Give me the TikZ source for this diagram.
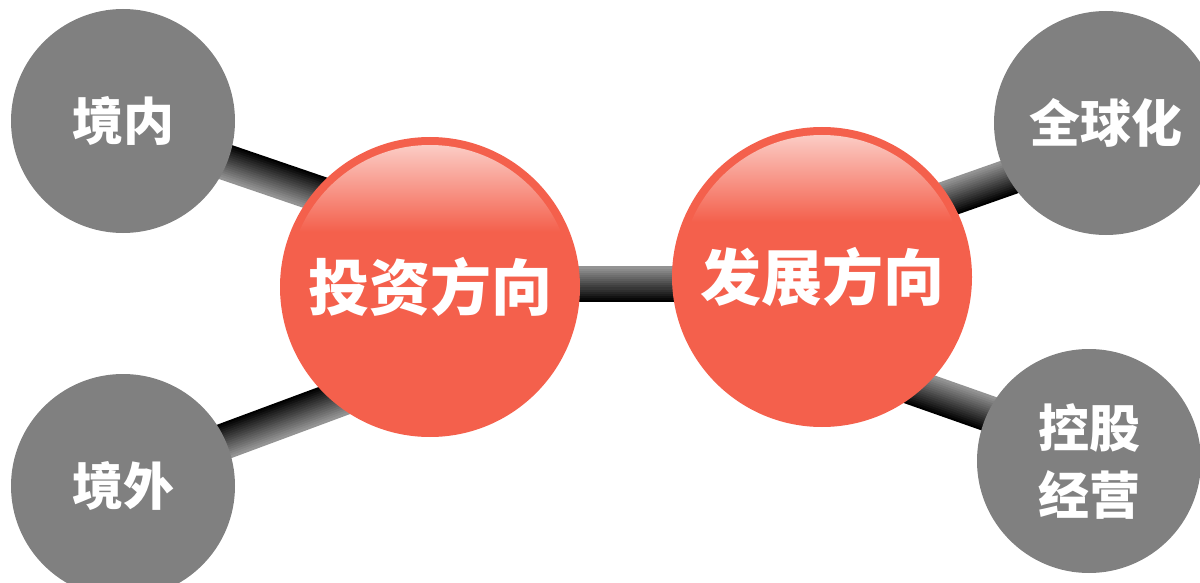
\documentclass[tikz,border=0pt]{standalone}
\usepackage{fontspec}
\newfontfamily\cjk{Noto Sans CJK SC}
\usetikzlibrary{calc,backgrounds}
\definecolor{dotgray}{RGB}{128,128,128}
\definecolor{dotred}{RGB}{244,96,76}
\definecolor{dotshine}{RGB}{252,214,208}
\tikzset{
  graydot/.style={circle,fill=dotgray,minimum size=224pt,inner sep=0pt,text=white,
    align=center,font=\cjk\bfseries\fontsize{51}{67}\selectfont},
  reddot/.style={circle,fill=dotred,minimum size=300pt,inner sep=0pt,text=white,
    font=\cjk\bfseries\fontsize{61}{70}\selectfont,
    path picture={\begin{scope}
      \clip (path picture bounding box.center) circle (142pt);
      \shade[top color=dotshine,bottom color=dotred]
        ([shift={(-150pt,150pt)}]path picture bounding box.center) rectangle
        ([shift={(150pt,55pt)}]path picture bounding box.center);
      \end{scope}}}
}
% thick bar from #1 to #2, dark edge on the left (#3=1) or right (#3=-1)
\newcommand\linkbar[3]{%
  \foreach \i in {0,...,16}{%
    \pgfmathsetmacro\barpct{100-3.6*\i}
    \pgfmathsetmacro\baroff{#3*(8-\i)*2.1}
    \draw[line width=2.7pt,black!\barpct!white] ($(#1)!\baroff pt!90:(#2)$) -- ($(#2)!\baroff pt!-90:(#1)$);
  }}
\begin{document}
\begin{tikzpicture}[x=1pt,y=-1pt]
\useasboundingbox (0,0) rectangle (1200,583);
\node[reddot] (tz) at (430,287) {投资方向};
\node[reddot] (fz) at (822,277) {发展方向};
\node[graydot] (jn) at (123,121) {境内};
\node[graydot] (jw) at (123,486) {境外};
\node[graydot] (qq) at (1106,123) {全球化};
\node[graydot] (kg) at (1089,461) {控股\\经营};

\coordinate (jnE) at ([yshift=-6pt]jn.center);
\coordinate (tzN) at ([yshift=55pt]tz.center);
\coordinate (jwE) at ([yshift=7pt]jw.center);
\coordinate (tzS) at ([yshift=-78pt]tz.center);
\coordinate (tzE) at ([yshift=3pt]tz.center);
\coordinate (fzW) at ([yshift=-7pt]fz.center);
\coordinate (fzN) at ([yshift=34pt]fz.center);
\coordinate (qqE) at ([yshift=-20pt]qq.center);
\coordinate (fzS) at ([yshift=-78pt]fz.center);
\coordinate (kgE) at ([yshift=12pt]kg.center);

\begin{pgfonlayer}{background}
\linkbar{jnE}{tzN}{1}
\linkbar{jwE}{tzS}{1}
\linkbar{tzE}{fzW}{-1}
\linkbar{fzN}{qqE}{-1}
\linkbar{fzS}{kgE}{-1}
\end{pgfonlayer}
\end{tikzpicture}
\end{document}
